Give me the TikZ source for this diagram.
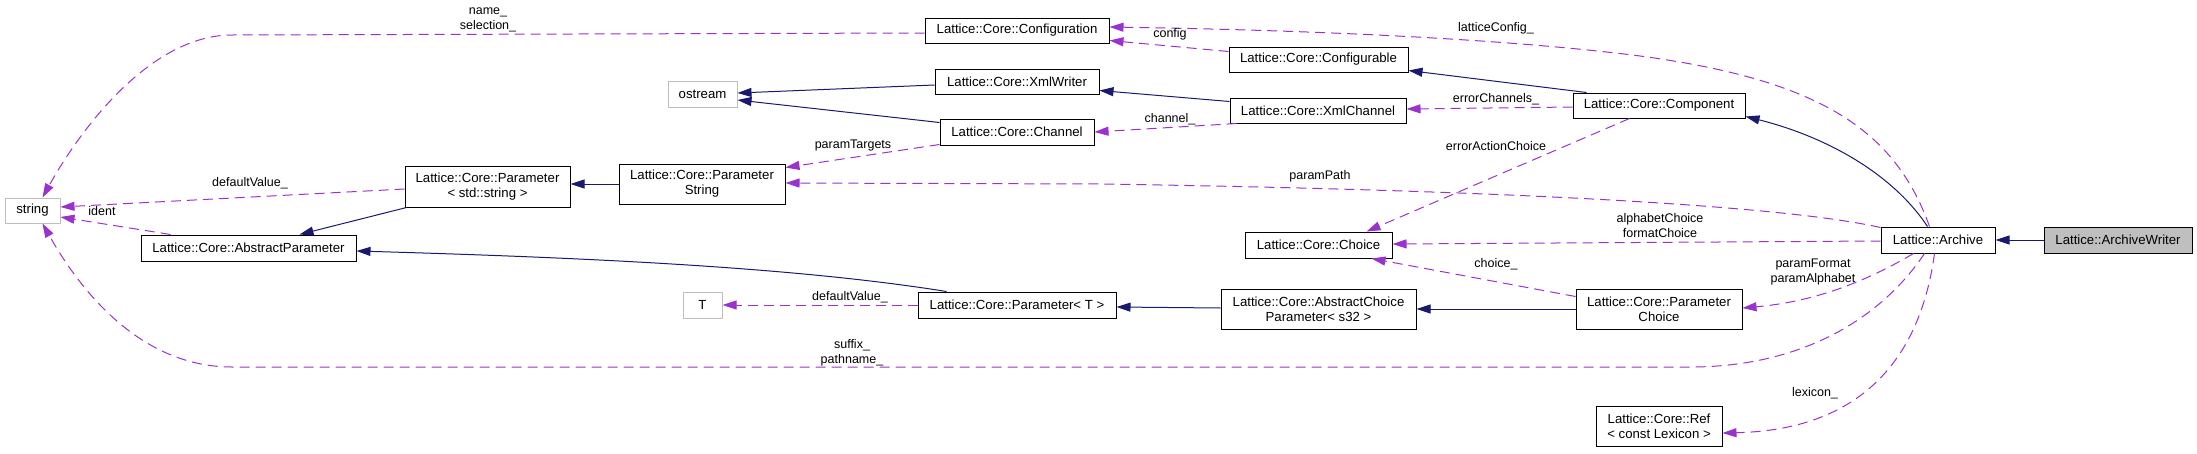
\documentclass[tikz,border=0pt]{standalone}
\usepackage{fontspec}
\setmainfont{Liberation Sans}
\usetikzlibrary{arrows.meta,calc}
\definecolor{navyc}{HTML}{191970}
\definecolor{orchidc}{HTML}{9A32CD}
\definecolor{grayb}{HTML}{BFBFBF}
\newcommand\nodefnt{\fontsize{13.2}{15}\selectfont}
\newcommand\lblfnt{\fontsize{12.5}{15}\selectfont}
\tikzset{
  cls/.style={draw=black, line width=1pt, fill=white, inner sep=0pt, font=\nodefnt, align=center},
  ext/.style={cls, draw=grayb},
  inh/.style={draw=navyc, line width=1pt, -{Triangle[length=14pt,width=9pt]}},
  usg/.style={draw=orchidc, line width=1pt, dash pattern=on 10pt off 6pt, -{Triangle[length=14pt,width=9pt]}},
  lbl/.style={font=\lblfnt, inner sep=0pt, align=center, text height=9.5pt, text depth=2.5pt},
  lbltwo/.style={font=\lblfnt, inner sep=0pt, align=center}
}
\begin{document}
\begin{tikzpicture}[x=1pt,y=-1pt]
\path[use as bounding box] (0,0) rectangle (2197,453);
% nodes
\node[ext, minimum width=55pt, minimum height=25pt] (str) at (32.5,210.5) {string};
\node[cls, minimum width=215pt, minimum height=26pt] (absp) at (248.5,248) {Lattice::Core::AbstractParameter};
\node[cls, minimum width=165pt, minimum height=41pt] (pss) at (487.5,186.5) {Lattice::Core::Parameter\\< std::string >};
\node[cls, minimum width=166pt, minimum height=40pt] (pstr) at (702,184) {Lattice::Core::Parameter\\String};
\node[ext, minimum width=69pt, minimum height=26pt] (ostr) at (702.5,94) {ostream};
\node[cls, minimum width=184pt, minimum height=25pt] (conf) at (1017,30.5) {Lattice::Core::Configuration};
\node[cls, minimum width=164pt, minimum height=25pt] (xmlw) at (1017,81.5) {Lattice::Core::XmlWriter};
\node[cls, minimum width=154pt, minimum height=26pt] (chan) at (1017,132) {Lattice::Core::Channel};
\node[cls, minimum width=179pt, minimum height=25pt] (cfg) at (1318.5,59.5) {Lattice::Core::Configurable};
\node[cls, minimum width=176pt, minimum height=25pt] (xmlc) at (1318,110.5) {Lattice::Core::XmlChannel};
\node[cls, minimum width=172pt, minimum height=25pt] (comp) at (1659,105.5) {Lattice::Core::Component};
\node[cls, minimum width=147pt, minimum height=26pt] (choice) at (1318.5,245) {Lattice::Core::Choice};
\node[cls, minimum width=195pt, minimum height=40pt] (acp) at (1318.5,309) {Lattice::Core::AbstractChoice\\Parameter< s32 >};
\node[cls, minimum width=198pt, minimum height=26pt] (pt) at (1017,305) {Lattice::Core::Parameter< T >};
\node[ext, minimum width=39pt, minimum height=26pt] (tt) at (702.5,305) {T};
\node[cls, minimum width=166pt, minimum height=40pt] (pc) at (1659,309) {Lattice::Core::Parameter\\Choice};
\node[cls, minimum width=126pt, minimum height=40pt] (ref) at (1659,426) {Lattice::Core::Ref\\< const Lexicon >};
\node[cls, minimum width=114pt, minimum height=26pt] (arch) at (1938,240) {Lattice::Archive};
\node[cls, fill=grayb, minimum width=148pt, minimum height=26pt] (aw) at (2118,240) {Lattice::ArchiveWriter};

% inheritance edges
\draw[inh] (aw.west) -- (arch.east);
\draw[inh] ($(arch.north west)+(47,0)$) .. controls (1890,170) and (1820,135) .. ($(comp.south east)+(0,-2)$);
\draw[inh] ($(comp.north west)+(14,0)$) -- ($(cfg.south east)+(0,-2)$);
\draw[inh] ($(xmlc.north west)+(0,4)$) -- ($(xmlw.south east)+(0,-4)$);
\draw[inh] ($(xmlw.west)+(0,3.5)$) -- ($(ostr.east)+(0,-1)$);
\draw[inh] ($(chan.north west)+(0,4)$) -- ($(ostr.east)+(0,6)$);
\draw[inh] (pstr.west) -- (pstr.west -| pss.east);
\draw[inh] ($(pss.south west)+(2,0)$) -- ($(absp.north west)+(159,0)$);
\draw[inh] ($(pt.north west)+(29,0)$) .. controls (800,268) and (600,258) .. ($(absp.east)+(0,3)$);
\draw[inh] ($(acp.west)+(0,-1)$) -- ($(pt.east)+(0,2)$);
\draw[inh] (pc.west) -- (acp.east);

% usage edges
\draw[usg] ($(conf.west)+(0,2.5)$) -- (232,35) .. controls (150,35) and (80,130) .. ($(str.north west)+(38,0)$);
\draw[usg] ($(absp.north west)+(30,0)$) -- ($(str.east)+(0,6.5)$);
\draw[usg] ($(pss.west)+(0,2.5)$) -- ($(str.east)+(0,-3.5)$);
\draw[usg] ($(arch.south west)+(44,0)$) .. controls (1880,320) and (1800,367) .. (1690,367) -- (232,367) .. controls (140,367) and (80,290) .. ($(str.south west)+(38,0)$);
\draw[usg] ($(chan.south west)+(0,-1)$) -- ($(pstr.north east)+(0,4)$);
\draw[usg] ($(arch.north west)+(0,1)$) .. controls (1780,205) and (1500,190) .. (1100,184) -- ($(pstr.east)+(0,-1)$);
\draw[usg] ($(xmlc.south west)+(7,0)$) -- (chan.east);
\draw[usg] ($(cfg.north west)+(0,5)$) -- ($(conf.south east)+(0,-3)$);
\draw[usg] ($(arch.north west)+(49,0)$) .. controls (1895,130) and (1820,80) .. (1640,56) .. controls (1500,38) and (1300,30) .. ($(conf.east)+(0,-3.5)$);
\draw[usg] ($(comp.west)+(0,1.5)$) -- ($(xmlc.east)+(0,-1.5)$);
\draw[usg] ($(comp.south west)+(57,0)$) -- ($(choice.north east)+(-26,0)$);
\draw[usg] ($(arch.west)+(0,1)$) -- ($(choice.east)+(0,-1)$);
\draw[usg] ($(pc.north west)+(0,8)$) -- ($(choice.south east)+(-21,0)$);
\draw[usg] ($(arch.south west)+(33,0)$) .. controls (1860,285) and (1810,302) .. ($(pc.east)+(0,-1)$);
\draw[usg] ($(arch.south west)+(54,0)$) .. controls (1920,360) and (1860,430) .. ($(ref.east)+(0,7)$);
\draw[usg] (pt.west) -- (tt.east);

% labels
\node[lbltwo] (l1) at (488,20) {name\_\\selection\_};
\node[lbl] (l2) at (102,212) {ident};
\node[lbl] (l3) at (250,183) {defaultValue\_};
\node[lbltwo] (l4) at (852,352.5) {suffix\_\\pathname\_};
\node[lbl] (l5) at (853,145) {paramTargets};
\node[lbl] (l6) at (1320,176) {paramPath};
\node[lbl] (l7) at (1170,119) {channel\_};
\node[lbl] (l8) at (1170,34) {config};
\node[lbl] (l9) at (1496,28) {latticeConfig\_};
\node[lbl] (l10) at (1496,99) {errorChannels\_};
\node[lbl] (l11) at (1496,147) {errorActionChoice};
\node[lbltwo] (l12) at (1660,226) {alphabetChoice\\formatChoice};
\node[lbl] (l13) at (1496,264) {choice\_};
\node[lbltwo] (l14) at (1813,272) {paramFormat\\paramAlphabet};
\node[lbl] (l15) at (1815,393) {lexicon\_};
\node[lbl] (l16) at (850,297) {defaultValue\_};
\end{tikzpicture}
\end{document}
